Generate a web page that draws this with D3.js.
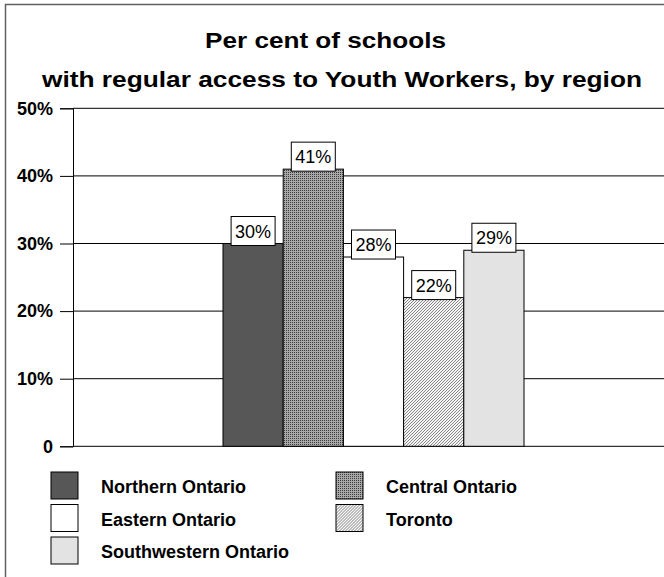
<!DOCTYPE html>
<html>
<head>
<meta charset="utf-8">
<script src="https://cdn.jsdelivr.net/npm/d3@7"></script>
<style>
  html, body { margin: 0; padding: 0; background: #fff; }
  svg { display: block; font-family: Arial, "Liberation Sans", sans-serif; }
</style>
</head>
<body>
<svg id="chart" width="664" height="577"></svg>
<script>
// Regions and their share of schools with regular access to Youth Workers
const regions = ["Northern Ontario", "Central Ontario", "Eastern Ontario", "Toronto", "Southwestern Ontario"];
const values = [0.30, 0.41, 0.28, 0.22, 0.29];
const tickValues = [0, 0.1, 0.2, 0.3, 0.4, 0.5];
const tickLabels = ["0", "10%", "20%", "30%", "40%", "50%"];
const titleLines = ["Per cent of schools", "with regular access to Youth Workers, by region"];
// Legend order: two columns, read row by row
const legendOrder = ["Northern Ontario", "Central Ontario", "Eastern Ontario", "Toronto", "Southwestern Ontario"];

const svg = d3.select("#chart");
const W = 664, H = 577;

// Fill patterns
const defs = svg.append("defs");
const dots = defs.append("pattern").attr("id", "pat-dots")
  .attr("patternUnits", "userSpaceOnUse").attr("width", 2).attr("height", 2);
dots.append("rect").attr("width", 2).attr("height", 2).attr("fill", "#a8a8a8");
dots.append("rect").attr("width", 1).attr("height", 1).attr("fill", "#3c3c3c");

const hatch = defs.append("pattern").attr("id", "pat-hatch")
  .attr("patternUnits", "userSpaceOnUse").attr("width", 3).attr("height", 3);
hatch.append("rect").attr("width", 3).attr("height", 3).attr("fill", "#f4f4f4");
hatch.append("path").attr("d", "M0,3 L3,0 M-1,1 L1,-1 M2,4 L4,2")
  .attr("stroke", "#7a7a7a").attr("stroke-width", 0.9);

const fills = {
  "Northern Ontario": "#575757",
  "Central Ontario": "url(#pat-dots)",
  "Eastern Ontario": "#ffffff",
  "Toronto": "url(#pat-hatch)",
  "Southwestern Ontario": "#e3e3e3"
};

// Outer frame (top and left edges)
svg.append("path")
  .attr("d", `M5.5,${H} L5.5,4.5 L${W},4.5`)
  .attr("fill", "none").attr("stroke", "#606060").attr("stroke-width", 1.5);

// Title
const titleSpec = [
  { x: 205, y: 48, len: 241 },
  { x: 42, y: 87, len: 600 }
];
svg.append("g").selectAll("text").data(titleLines).join("text")
  .attr("x", (d, i) => titleSpec[i].x)
  .attr("y", (d, i) => titleSpec[i].y)
  .attr("textLength", (d, i) => titleSpec[i].len)
  .attr("lengthAdjust", "spacingAndGlyphs")
  .attr("font-size", 22).attr("font-weight", "bold").attr("fill", "#000")
  .text(d => d);

// Scales
const y = d3.scaleLinear().domain([0, 0.5]).range([446.3, 108.3]);
const x = d3.scaleBand().domain(regions).range([223, 524]).paddingInner(0);
const axisX = 73;

// Gridlines
svg.append("g").selectAll("line").data(tickValues).join("line")
  .attr("x1", axisX).attr("x2", W)
  .attr("y1", d => y(d)).attr("y2", d => y(d))
  .attr("stroke", "#000").attr("stroke-width", 1);

// Y axis
const yAxis = d3.axisLeft(y).tickValues(tickValues)
  .tickFormat((d, i) => tickLabels[i]).tickSize(13).tickPadding(7);
const gAxis = svg.append("g").attr("transform", `translate(${axisX},0)`).call(yAxis);
gAxis.select(".domain").attr("stroke", "#000");
gAxis.selectAll(".tick line").attr("stroke", "#000");
gAxis.selectAll(".tick text")
  .attr("font-size", 18).attr("font-weight", "bold")
  .attr("font-family", "Arial, 'Liberation Sans', sans-serif").attr("fill", "#000");

// Bars
svg.append("g").selectAll("rect").data(regions).join("rect")
  .attr("x", d => x(d))
  .attr("y", (d, i) => y(values[i]))
  .attr("width", x.bandwidth())
  .attr("height", (d, i) => y(0) - y(values[i]))
  .attr("fill", d => fills[d])
  .attr("stroke", "#000").attr("stroke-width", 1);

// Value labels in boxes
const lblW = 44, lblH = 29;
const lbl = svg.append("g").selectAll("g").data(regions).join("g")
  .attr("transform", (d, i) => `translate(${x(d) + x.bandwidth() / 2},${y(values[i]) + 2})`);
lbl.append("rect")
  .attr("x", -lblW / 2).attr("y", -lblH)
  .attr("width", lblW).attr("height", lblH)
  .attr("fill", "#fff").attr("stroke", "#000").attr("stroke-width", 1);
lbl.append("text")
  .attr("y", -8).attr("text-anchor", "middle")
  .attr("font-size", 18).attr("fill", "#000")
  .text((d, i) => Math.round(values[i] * 100) + "%");

// Legend
const legCol = [51, 336], legRow = [472, 504.5, 537];
const leg = svg.append("g").selectAll("g").data(legendOrder).join("g")
  .attr("transform", (d, i) => `translate(${legCol[i % 2]},${legRow[Math.floor(i / 2)]})`);
leg.append("rect")
  .attr("width", 27).attr("height", 27)
  .attr("fill", d => fills[d])
  .attr("stroke", "#000").attr("stroke-width", 1);
leg.append("text")
  .attr("x", 50).attr("y", 21)
  .attr("font-size", 18).attr("font-weight", "bold").attr("fill", "#000")
  .text(d => d);
</script>
</body>
</html>
